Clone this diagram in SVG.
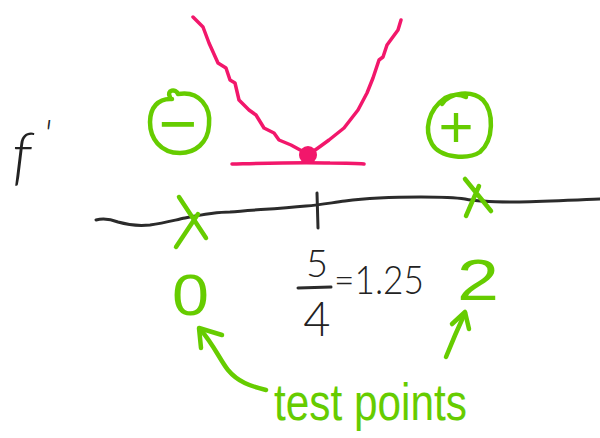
<svg xmlns="http://www.w3.org/2000/svg" width="600" height="438" viewBox="0 0 600 438">
<style>
.pk{fill:none;stroke:#F2176B;stroke-width:3.5;stroke-linecap:round;stroke-linejoin:round}
.gr{fill:none;stroke:#66CC00;stroke-width:4.5;stroke-linecap:round;stroke-linejoin:round}
.bk{fill:none;stroke:#2b2b2b;stroke-width:3;stroke-linecap:round;stroke-linejoin:round}
.gt{fill:#66CC00;font-family:"Liberation Sans",Arial,sans-serif}
.bt{fill:#222;font-family:Lato,"Liberation Sans",sans-serif;font-weight:300}
</style>
<rect width="600" height="438" fill="#fff"/>
<g id="f-prime">
<text class="bt" x="12" y="178" font-size="64" font-style="italic">f<tspan dx="12" dy="-30" font-size="40">'</tspan></text>
</g>
<g id="minus-sign">
<path class="gr" d="M170,97 C166,90 176,88 178,94 C200,90 211,108 209,125 C208,143 195,153 180,153 C160,153 150,138 150,122 C150,108 158,98 172,99"/>
<text class="gt" x="178" y="146" font-size="66" text-anchor="middle">−</text>
</g>
<g id="plus-sign">
<path class="gr" d="M442,104 C450,92 472,90 483,100 C494,112 494,140 480,152 C468,160 440,158 432,144 C424,130 428,110 445,98 C452,94 460,94 466,97"/>
<text class="gt" x="456" y="147" font-size="60" text-anchor="middle">+</text>
</g>
<g id="parabola">
<path class="pk" d="M193,17 L203,27 L209,43 L218,63 L226,68 L230,80 L235,83 L239,100 L249,110 L256,115 L264,128 L274,133 L279,140 L291,145 L302,151 L308,155 L318,148 L329,140 L344,128 L358,110 L367,93 L373,78 L379,60 L383,57 L387,45 L398,30 L401,20"/>
<path class="pk" d="M232,164 C270,163 300,162 330,163 C345,163 355,163 364,164"/>
<circle cx="308" cy="155" r="9" fill="#F2176B"/>
</g>
<g id="number-line">
<path class="bk" d="M96,220 C104,218 110,219 118,222 C128,225 140,226 150,225 C165,223 175,220 185,218 C200,215 215,212 230,212 C250,210 275,209 306,206 C320,205 330,203 345,201 C360,199 380,197 421,197 C440,197 452,197 465,199 C480,202 495,202 515,202 C540,202 570,200 600,199"/>
<path class="bk" d="M317,193 L318,228"/>
<path class="gr" d="M179,197 L206,238 M198,214 L176,247"/>
<path class="gr" d="M465,179 L491,211 M479,186 L466,216"/>
</g>
<g id="critical-value">
<text class="bt" x="317" y="277" font-size="38" text-anchor="middle">5</text>
<path class="bk" d="M298,288 L331,287" stroke-width="2.5"/>
<text class="bt" x="317" y="336" font-size="47" text-anchor="middle">4</text>
<text class="bt" x="334" y="294" font-size="40" textLength="90" lengthAdjust="spacingAndGlyphs">=1.25</text>
</g>
<g id="test-point-0">
<text class="gt" x="172" y="315" font-size="58" textLength="37" lengthAdjust="spacingAndGlyphs">0</text>
</g>
<g id="test-point-2">
<text class="gt" x="457" y="300" font-size="58" textLength="42" lengthAdjust="spacingAndGlyphs">2</text>
</g>
<g id="connectors">
<path class="gr" d="M266,390 C250,386 238,382 228,370 C220,360 214,345 200,329"/>
<path class="gr" d="M201,348 L199,328 L222,335"/>
<path class="gr" d="M446,357 C452,342 458,328 465,313"/>
<path class="gr" d="M452,324 L465,312 L469,329"/>
</g>
<g id="label-test-points">
<text class="gt" x="274" y="420" font-size="52" textLength="193" lengthAdjust="spacingAndGlyphs">test points</text>
</g>
</svg>
